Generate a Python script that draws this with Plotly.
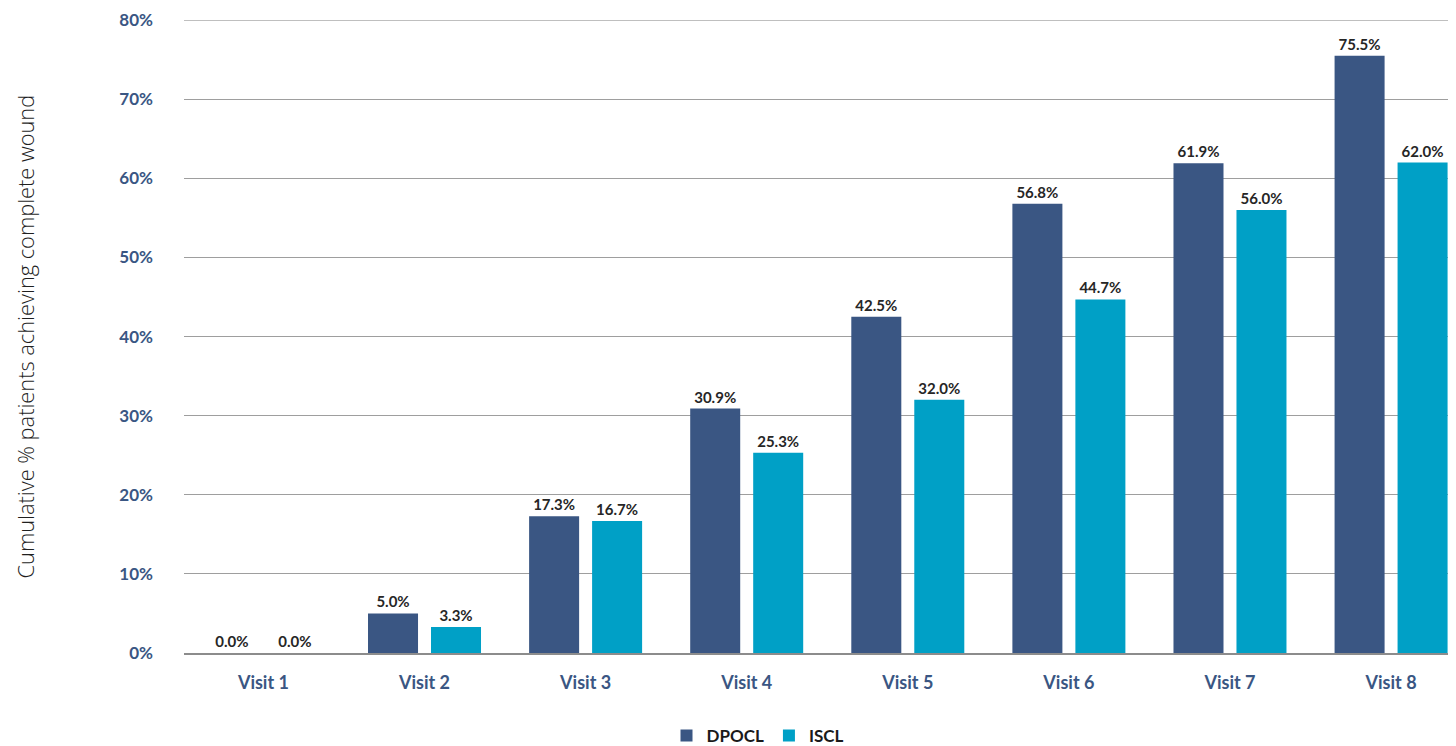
import plotly.graph_objects as go

categories = ["Visit 1", "Visit 2", "Visit 3", "Visit 4", "Visit 5", "Visit 6", "Visit 7", "Visit 8"]
dpocl = [0.0, 5.0, 17.3, 30.9, 42.5, 56.8, 61.9, 75.5]
iscl = [0.0, 3.3, 16.7, 25.3, 32.0, 44.7, 56.0, 62.0]
y_ticks = [0, 10, 20, 30, 40, 50, 60, 70, 80]
y_tick_labels = ["0%", "10%", "20%", "30%", "40%", "50%", "60%", "70%", "80%"]
series_names = ["DPOCL", "ISCL"]

# page body has an 8px margin, so the figure is placed at (8, 8) on screen
OFF = 8
W, H = 1456 - OFF, 746 - OFF
ML, MT = 184 - OFF, 20 - OFF
PLOT_BOTTOM = 653 - OFF
MB = H - PLOT_BOTTOM
plot_w = W - ML
plot_h = H - MT - MB

FONT = "Lato, Open Sans, sans-serif"

fig = go.Figure()
colors = ["#3A5683", "#00A0C6"]
for name, vals, col in zip(series_names, [dpocl, iscl], colors):
    fig.add_trace(go.Bar(
        x=categories, y=vals, name=name,
        marker=dict(color=col, line=dict(width=0)),
        text=[f"{v:.1f}%" for v in vals],
        textposition="outside",
        textfont=dict(family=FONT, size=15, color="#262626", weight="bold"),
        cliponaxis=False,
    ))

fig.update_layout(
    width=W, height=H,
    margin=dict(l=ML, r=0, t=MT, b=MB, pad=0, autoexpand=False),
    paper_bgcolor="white", plot_bgcolor="white",
    barmode="group", bargap=0.218, bargroupgap=0.206,
    showlegend=True,
    legend=dict(
        orientation="h", x=(758 - OFF - ML) / plot_w, xanchor="center",
        y=(PLOT_BOTTOM - (736 - OFF)) / plot_h, yanchor="middle",
        font=dict(family=FONT, size=17, color="#1a1a1a", weight="bold"),
        traceorder="normal",
    ),
    font=dict(family=FONT),
    shapes=[dict(type="line", xref="paper", x0=0, x1=1, yref="y", y0=80, y1=80,
                 line=dict(color="#9E9E9E", width=1), layer="below")],
)

fig.update_xaxes(
    type="category",
    range=[-0.493, 7.403],
    showgrid=False, automargin=False,
    showline=True, linecolor="#8C8C8C", linewidth=1.5,
    ticks="",
    tickfont=dict(family=FONT, size=18, color="#3A5683", weight="bold"),
    ticklabelstandoff=13,
)
fig.update_yaxes(
    range=[0, 80.02], automargin=False,
    tickvals=y_ticks, ticktext=y_tick_labels,
    showgrid=True, gridcolor="#9E9E9E", gridwidth=1,
    zeroline=False, showline=False,
    ticks="",
    tickfont=dict(family=FONT, size=17, color="#3A5683", weight="bold"),
    ticklabelstandoff=30,
    ticklabeloverflow="allow",
)

fig.add_annotation(
    text="Cumulative % patients achieving complete wound",
    textangle=-90,
    xref="paper", yref="paper",
    x=-(ML - (25 - OFF)) / plot_w, y=0.5,
    xanchor="center", yanchor="middle",
    showarrow=False,
    font=dict(family="Open Sans, sans-serif", size=21.8, color="#1f1f1f", weight=300),
)

fig.write_html("out.html")
